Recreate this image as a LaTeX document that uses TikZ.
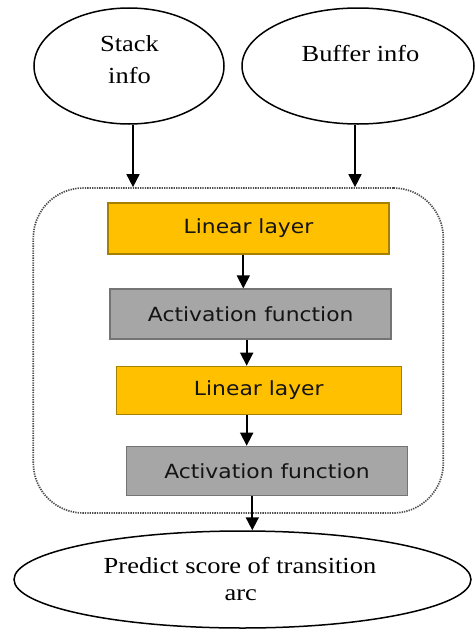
\documentclass[tikz,border=0pt]{standalone}
\usepackage{fontspec}
\usetikzlibrary{shapes.geometric,arrows.meta}
\newfontfamily\boxfont[FakeStretch=1.12]{DejaVu Sans}
\newfontfamily\ellfont[FakeStretch=1.15]{Liberation Serif}
\definecolor{layergold}{HTML}{FFC000}
\definecolor{layeredge}{HTML}{A88000}
\definecolor{actgray}{HTML}{A6A6A6}
\definecolor{actedge}{HTML}{747474}
\tikzset{
  inputell/.style={ellipse, draw=black, line width=1.5pt, inner sep=0pt},
  elltext/.style={anchor=base, inner sep=0pt, font=\ellfont\fontsize{23}{27}\selectfont, text=black},
  layerbox/.style={rectangle, draw=layeredge, fill=layergold, line width=1.6pt, inner sep=0pt,
    font=\boxfont\fontsize{19.5}{23}\selectfont, text=black!92},
  actbox/.style={rectangle, draw=actedge, fill=actgray, line width=1.6pt, inner sep=0pt,
    font=\boxfont\fontsize{19.5}{23}\selectfont, text=black!92},
  container/.style={rectangle, draw=black!70, line width=1.7pt, dash pattern=on 1.3pt off 1.1pt,
    rounded corners=50pt, inner sep=0pt},
  arr/.style={draw=black, line width=1.7pt, -{Triangle[width=13pt,length=13pt]}}
}
\begin{document}
\begin{tikzpicture}[x=1pt,y=-1pt]
  \useasboundingbox (0,0) rectangle (475,629);

  % dotted frame around the network layers
  \node[container, minimum width=410pt, minimum height=325pt] (frame) at (238.3,350.5) {};

  % input ellipses
  \node[inputell, minimum width=190pt, minimum height=116pt] (stack) at (129,66) {};
  \node[inputell, minimum width=232pt, minimum height=116pt] (buffer) at (358,66) {};
  \node[elltext] (stackA) at (129.5,51.7) {Stack};
  \node[elltext] (stackB) at (129.5,83.3) {info};
  \node[elltext] (bufferT) at (360.5,61.7) {Buffer info};

  % layer stack
  \node[layerbox, minimum width=281pt, minimum height=51pt] (lin1) at (248.5,228.5) {Linear layer};
  \node[actbox, minimum width=281pt, minimum height=50pt] (act1) at (250.7,314.2) {Activation function};
  \node[layerbox, minimum width=285pt, minimum height=48pt] (lin2) at (258.8,390.5) {Linear layer};
  \node[actbox, minimum width=281pt, minimum height=49pt] (act2) at (267,471) {Activation function};

  % output ellipse
  \node[inputell, minimum width=457pt, minimum height=97pt] (out) at (242.5,579.5) {};
  \node[elltext] (outA) at (240,573) {Predict score of transition};
  \node[elltext] (outB) at (240.8,600) {arc};

  % vertical positions of the connectors
  \coordinate (xs) at (133,0);
  \coordinate (xb) at (355,0);
  \coordinate (x1) at (243.3,0);
  \coordinate (x2) at (246.7,0);
  \coordinate (x3) at (252.3,0);

  % connectors
  \draw[arr] (stack.south -| xs) -- (frame.north -| xs);
  \draw[arr] (buffer.south -| xb) -- (frame.north -| xb);
  \draw[arr] (lin1.south -| x1) -- (act1.north -| x1);
  \draw[arr] (act1.south -| x2) -- (lin2.north -| x2);
  \draw[arr] (lin2.south -| x2) -- (act2.north -| x2);
  \draw[arr] (act2.south -| x3) -- (out.north -| x3);
\end{tikzpicture}
\end{document}
